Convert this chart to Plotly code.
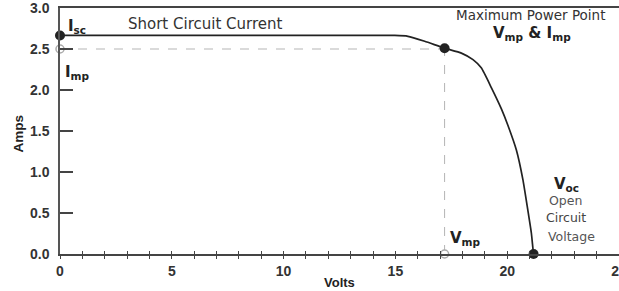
import plotly.graph_objects as go

# IV curve data (Volts, Amps)
volts = [0, 14.97, 15.56, 16.31, 17.2, 17.95, 18.47, 18.84, 19.29, 19.74, 20.03, 20.41, 20.70, 20.92, 21.08, 21.15, 21.18]
amps = [2.665, 2.665, 2.655, 2.594, 2.51, 2.45, 2.37, 2.27, 2.03, 1.77, 1.57, 1.268, 0.91, 0.54, 0.256, 0.07, 0.0]

isc = 2.665
imp = 2.5
vmp = 17.2
voc = 21.18

x_major = [0, 5, 10, 15, 20, 25]
x_minor = list(range(0, 26))
y_ticks = [0.0, 0.5, 1.0, 1.5, 2.0, 2.5, 3.0]
y_ticktext = ["0.0", "0.5", "1.0", "1.5", "2.0", "2.5", "3.0"]

BOLD = "Liberation Sans, Arial, sans-serif"
WIDE = "DejaVu Sans, sans-serif"
DARK = "#222222"

fig = go.Figure()

# guide lines
fig.add_trace(go.Scatter(x=[0, vmp], y=[imp, imp], mode="lines",
                         line=dict(color="#b5b5b5", width=1, dash="dash"),
                         hoverinfo="skip", showlegend=False))
fig.add_trace(go.Scatter(x=[vmp, vmp], y=[0, imp], mode="lines",
                         line=dict(color="#b5b5b5", width=1, dash="dash"),
                         hoverinfo="skip", showlegend=False))

# IV curve
fig.add_trace(go.Scatter(x=volts, y=amps, mode="lines",
                         line=dict(color=DARK, width=1.7, shape="spline", smoothing=0.5),
                         showlegend=False))

# filled key points
fig.add_trace(go.Scatter(x=[0, vmp, voc], y=[isc, 2.51, 0], mode="markers",
                         marker=dict(color=DARK, size=10),
                         cliponaxis=False, showlegend=False))
# open key points
fig.add_trace(go.Scatter(x=[0, vmp], y=[imp, 0], mode="markers",
                         marker=dict(color="white", size=8, line=dict(color="#aaaaaa", width=1.5)),
                         cliponaxis=False, showlegend=False))

# dummy trace for the inside-tick overlay axis
fig.add_trace(go.Scatter(x=[0], y=[0], xaxis="x2", mode="markers",
                         marker=dict(opacity=0), hoverinfo="skip", showlegend=False))

ann = []
def add(text, x, y, size, family=WIDE, color=DARK, xanchor="center", weight="normal"):
    ann.append(dict(text=text, x=x, y=y, xref="x", yref="y", showarrow=False,
                    font=dict(family=family, size=size, color=color, weight=weight),
                    xanchor=xanchor, yanchor="middle", borderpad=0))

add("I<sub>sc</sub>", 0.3, 2.78, 15, weight="bold", xanchor="left")
add("Short Circuit Current", 6.52, 2.8, 15, color="#333")
add("I<sub>mp</sub>", 0.2, 2.21, 15, weight="bold", xanchor="left")
add("Maximum Power Point", 21.05, 2.91, 13.5, color="#333")
add("V<sub>mp</sub> & I<sub>mp</sub>", 21.13, 2.69, 15, weight="bold")
add("V<sub>oc</sub>", 22.65, 0.85, 15, weight="bold")
add("Open", 22.6, 0.65, 12.5, color="#555")
add("Circuit", 22.62, 0.44, 12.5, color="#444")
add("Voltage", 22.88, 0.21, 12.5, color="#555")
add("V<sub>mp</sub>", 17.4, 0.19, 15, weight="bold", xanchor="left")

# axis titles
ann.append(dict(text="Volts", x=0.5, y=-0.114, xref="paper", yref="paper", showarrow=False,
                xanchor="center", yanchor="middle",
                font=dict(family=BOLD, size=13, color=DARK, weight="bold")))
ann.append(dict(text="Amps", x=-0.075, y=0.49, xref="paper", yref="paper", showarrow=False,
                xanchor="center", yanchor="middle", textangle=-90,
                font=dict(family=BOLD, size=13.5, color=DARK, weight="bold")))

fig.update_layout(
    width=619, height=291,
    margin=dict(l=60, r=0, t=8, b=37),
    paper_bgcolor="white", plot_bgcolor="white",
    font=dict(family=BOLD, color=DARK),
    annotations=ann,
    xaxis=dict(range=[0, 25], tickmode="array", tickvals=x_minor,
               ticktext=[str(v) if v in x_major else "" for v in x_minor],
               ticks="outside", ticklen=3, tickwidth=1.2, tickcolor="#444",
               showline=True, linecolor="#444", linewidth=1.5, mirror=True,
               showgrid=False, zeroline=False, automargin=False,
               ticklabeloverflow="allow",
               tickfont=dict(family=BOLD, size=14, color="#333", weight="bold")),
    xaxis2=dict(range=[0, 25], overlaying="x", anchor="y", side="bottom",
                tickmode="array", tickvals=x_minor, showticklabels=False,
                ticks="inside", ticklen=3, tickwidth=1.2, tickcolor="#444",
                showline=False, showgrid=False, zeroline=False, automargin=False),
    yaxis=dict(range=[0, 3], tickmode="array", tickvals=y_ticks, ticktext=y_ticktext,
               ticks="inside", ticklen=13, tickwidth=1.5, tickcolor="#444",
               showline=True, linecolor="#555", linewidth=1.5,
               showgrid=False, zeroline=False, ticklabelstandoff=6, automargin=False,
               ticklabeloverflow="allow",
               tickfont=dict(family=BOLD, size=14, color="#333", weight="bold")),
)

fig.write_html("out.html", config={"displayModeBar": False},
               post_script="document.body.style.margin='0';document.body.style.overflow='hidden';")
